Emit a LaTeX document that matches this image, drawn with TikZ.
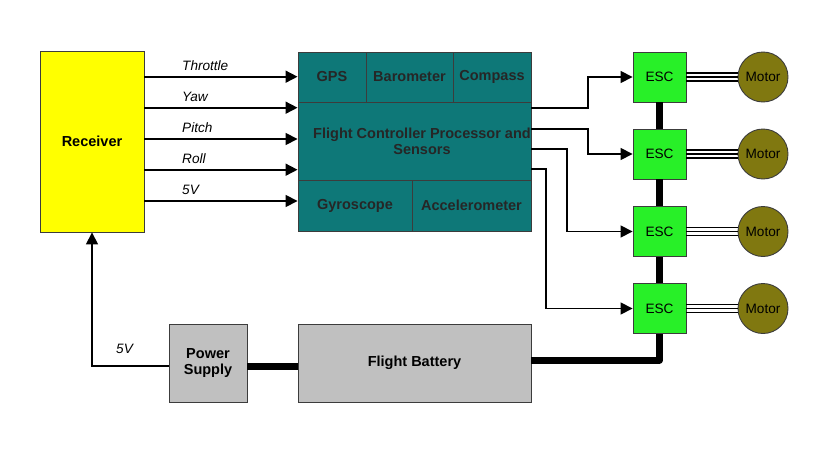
\documentclass[tikz,border=0pt]{standalone}
\usepackage{fontspec}
\setmainfont{Liberation Sans}
\usetikzlibrary{arrows.meta,calc}
\definecolor{recy}{RGB}{255,255,0}
\definecolor{fcteal}{RGB}{14,120,120}
\definecolor{escg}{RGB}{40,240,40}
\definecolor{motol}{RGB}{128,120,16}
\definecolor{boxgray}{RGB}{192,192,192}
\definecolor{edge}{RGB}{60,60,60}
\begin{document}
\begin{tikzpicture}[x=1pt,y=-1pt,
  box/.style={draw=edge, line width=0.9pt, inner sep=0pt, anchor=center, align=center,
    font=\fontsize{14.5}{16.5}\selectfont\bfseries},
  fcbox/.style={box, fill=fcteal, text=black!85},
  escbox/.style={box, fill=escg, minimum width=53, minimum height=50, font=\fontsize{13.6}{16}\selectfont},
  motbox/.style={draw=edge, line width=0.9pt, circle, fill=motol, minimum size=50, inner sep=0pt,
    font=\fontsize{13.6}{16}\selectfont},
  lbl/.style={anchor=west, inner sep=0pt, font=\fontsize{13.6}{16}\selectfont\itshape},
  sig/.style={line width=1.6pt, -{Triangle[length=12pt,width=12pt]}},
  pwr/.style={line width=7pt},
  tri/.style={line width=1.4pt}
]
\useasboundingbox (0,0) rectangle (829,452);

% Receiver
\node[box, fill=recy, minimum width=104, minimum height=181] (rec) at (92,141.5) {Receiver};

% Flight controller
\node[fcbox, minimum width=233, minimum height=179] (fc) at (414.5,141.5) {};
\node[fcbox, minimum width=68, minimum height=50] (gps) at (332,77) {GPS};
\node[fcbox, minimum width=87, minimum height=50] (baro) at (409.5,77) {Barometer};
\node[fcbox, minimum width=78, minimum height=50] (comp) at (492,77) {Compass};
\node[fcbox, minimum width=114, minimum height=51] (gyro) at (355,205.5) {Gyroscope};
\node[fcbox, minimum width=119, minimum height=51] (acc) at (471.5,205.5) {Accelerometer};
\begin{scope}
\clip (fc.north west) rectangle (fc.south east);
\node[inner sep=0pt, align=center, text=black!85, font=\fontsize{14.5}{16}\selectfont\bfseries] (fct) at (422,141) {Flight Controller Processor and\\Sensors};
\end{scope}

% ESCs and motors
\node[escbox] (esc1) at (659.5,77) {ESC};
\node[escbox] (esc2) at (659.5,154) {ESC};
\node[escbox] (esc3) at (659.5,231.5) {ESC};
\node[escbox] (esc4) at (659.5,308.5) {ESC};
\node[motbox] (mot1) at (763,77) {Motor};
\node[motbox] (mot2) at (763,154) {Motor};
\node[motbox] (mot3) at (763,231.5) {Motor};
\node[motbox] (mot4) at (763,308.5) {Motor};

% Power
\node[box, fill=boxgray, minimum width=78, minimum height=78] (ps) at (208,363) {Power\\Supply};
\node[box, fill=boxgray, minimum width=233, minimum height=78] (bat) at (414.5,363) {Flight Battery};

% Receiver -> FC signals
\draw[sig] (rec.east |- 0,76.7) -- (fc.west |- 0,76.7);
\draw[sig] (rec.east |- 0,107.7) -- (fc.west |- 0,107.7);
\draw[sig] (rec.east |- 0,139) -- (fc.west |- 0,139);
\draw[sig] (rec.east |- 0,169.7) -- (fc.west |- 0,169.7);
\draw[sig] (rec.east |- 0,201) -- (fc.west |- 0,201);
\node[lbl] (l1) at (182,66) {Throttle};
\node[lbl] (l2) at (182,97) {Yaw};
\node[lbl] (l3) at (182,128) {Pitch};
\node[lbl] (l4) at (182,158.5) {Roll};
\node[lbl] (l5) at (182,190) {5V};

% FC -> ESCs
\draw[sig] (fc.east |- 0,107.7) -- (588,107.7) |- (esc1.west);
\draw[sig] (fc.east |- 0,129) -- (588,129) |- (esc2.west);
\draw[sig] (fc.east |- 0,149) -- (567,149) |- (esc3.west);
\draw[sig] (fc.east |- 0,169) -- (546,169) |- (esc4.west);

% ESC -> motor triple wires
\foreach \i in {1,2,3,4}{
  \foreach \d in {-4,0,4}{
    \draw[tri] ($(esc\i.east)+(0,\d)$) -- ($(mot\i.west)+(0,\d)$);
  }
}

% Power bus
\draw[pwr] (esc1.south) -- (esc2.north);
\draw[pwr] (esc2.south) -- (esc3.north);
\draw[pwr] (esc3.south) -- (esc4.north);
\draw[pwr, line join=round] (bat.east |- 0,360) -| (esc4.south);
\draw[pwr] (ps.east |- 0,366) -- (bat.west |- 0,366);

% 5V to receiver
\draw[sig] (ps.west |- 0,366) -| (rec.south);
\node[lbl] (l6) at (116,349) {5V};
\end{tikzpicture}
\end{document}
